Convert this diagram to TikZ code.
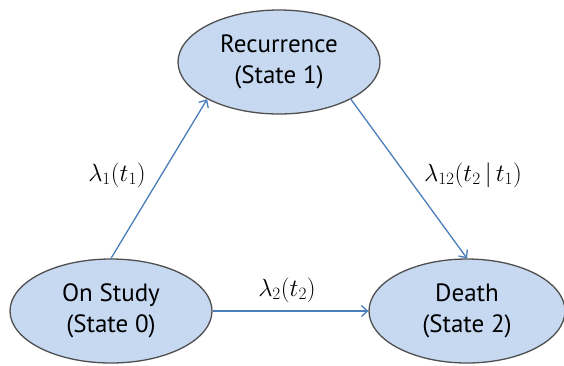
\documentclass[tikz,border=0pt]{standalone}
\usepackage{fontspec}
\newfontfamily\statefont{PT Sans}
\usetikzlibrary{shapes.geometric,arrows.meta}
\definecolor{statefill}{HTML}{C6D9F1}
\definecolor{stateline}{HTML}{4F4F4F}
\definecolor{arrowblue}{HTML}{4A7EBB}
\tikzset{
  state/.style={ellipse, draw=stateline, fill=statefill, line width=1.3pt,
    inner sep=0pt, minimum width=202pt, minimum height=104pt,
    font=\statefont\fontsize{25}{31}\selectfont, align=center},
  trans/.style={draw=arrowblue, line width=1.3pt,
    -{Straight Barb[length=6pt,width=11pt,line width=1.3pt]}},
  rate/.style={font=\fontsize{25}{30}\selectfont}
}
\begin{document}
\begin{tikzpicture}[x=1pt,y=-1pt]
  \useasboundingbox (0,0) rectangle (564,365);
  % the three states
  \node[state] (rec) at (279,62) {Recurrence\\(State 1)};
  \node[state] (os) at (111,311) {On Study\\(State 0)};
  \node[state, minimum width=196pt] (dth) at (467,311) {Death\\(State 2)};
  % transitions
  \draw[trans] (os.north) -- (rec.south west);
  \draw[trans] (rec.south east) -- (dth.north);
  \draw[trans] (os.east) -- (dth.west);
  % transition intensities
  \node[rate] (l1) at (117,175) {$\lambda_1(t_1)$};
  \node[rate] (l12) at (473,175) {$\lambda_{12}(t_2\,|\,t_1)$};
  \node[rate] (l2) at (287,290) {$\lambda_2(t_2)$};
\end{tikzpicture}
\end{document}
